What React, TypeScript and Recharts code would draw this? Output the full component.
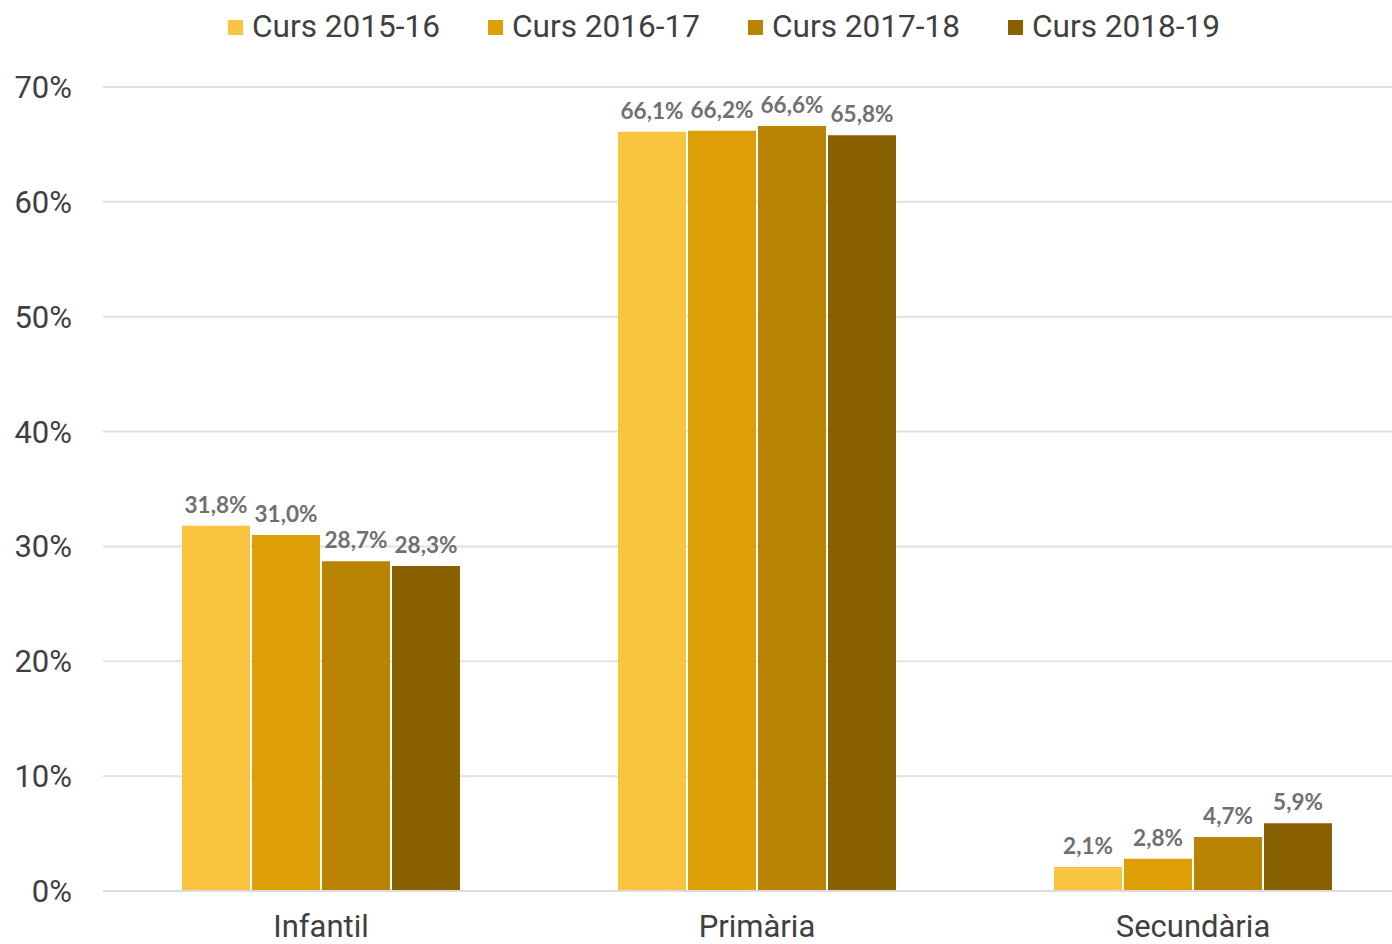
import React from 'react';
import { BarChart, Bar, XAxis, YAxis, CartesianGrid, LabelList } from 'recharts';

const categories = ['Infantil', 'Primària', 'Secundària'];
const seriesNames = ['Curs 2015-16', 'Curs 2016-17', 'Curs 2017-18', 'Curs 2018-19'];
const curs1516 = [31.8, 66.1, 2.1];
const curs1617 = [31.0, 66.2, 2.8];
const curs1718 = [28.7, 66.6, 4.7];
const curs1819 = [28.3, 65.8, 5.9];
const yTicks = [0, 10, 20, 30, 40, 50, 60, 70];
const colors = ['#F9C440', '#DD9E06', '#B98404', '#896100'];

const seriesValues = [curs1516, curs1617, curs1718, curs1819];
const keys = ['s0', 's1', 's2', 's3'];
const data = categories.map((c, i) => {
  const row: Record<string, any> = { name: c };
  keys.forEach((k, j) => { row[k] = seriesValues[j][i]; });
  return row;
});

const fmt = (v: any) => Number(v).toFixed(1).replace('.', ',') + '%';

const LegendBox = () => (
  <div style={{ position: 'absolute', left: 228, top: 9, display: 'flex', fontFamily: 'Roboto', fontSize: 31.6, color: '#404040', lineHeight: '36px' }}>
    {seriesNames.map((n, i) => (
      <div key={n} style={{ width: 260, display: 'flex', alignItems: 'center' }}>
        <span style={{ display: 'inline-block', width: 15, height: 15, background: colors[i], marginRight: 9 }} />
        <span>{n}</span>
      </div>
    ))}
  </div>
);

export default function App() {
  return (
    <div style={{ position: 'absolute', left: 0, top: 0, width: 1420, height: 944 }}>
      <BarChart
        width={1420}
        height={944}
        data={data}
        margin={{ top: 87, right: 9, bottom: 0, left: 0 }}
        barCategoryGap={79}
        barGap={2}
      >
        <CartesianGrid vertical={false} stroke="#e2e2e2" strokeWidth={2} />
        <XAxis
          dataKey="name"
          height={53}
          tickLine={false}
          axisLine={{ stroke: '#dcdcdc', strokeWidth: 2 }}
          tickSize={0}
          tickMargin={24}
          tick={{ fontFamily: 'Roboto', fontSize: 31, fill: '#404040' }}
        />
        <YAxis
          width={103}
          domain={[0, 70]}
          ticks={yTicks}
          tickFormatter={(v: number) => v + '%'}
          axisLine={false}
          tickLine={false}
          tickSize={0}
          tickMargin={31}
          tick={{ fontFamily: 'Roboto', fontSize: 31, fill: '#404040' }}
        />
        {keys.map((k, i) => (
          <Bar key={k} dataKey={k} name={seriesNames[i]} fill={colors[i]} isAnimationActive={false}>
            <LabelList
              dataKey={k}
              position="top"
              offset={13}
              formatter={fmt}
              style={{ fontFamily: 'Lato', fontWeight: 700, fontSize: 22.5, fill: '#707070' }}
            />
          </Bar>
        ))}
      </BarChart>
      <LegendBox />
    </div>
  );
}
